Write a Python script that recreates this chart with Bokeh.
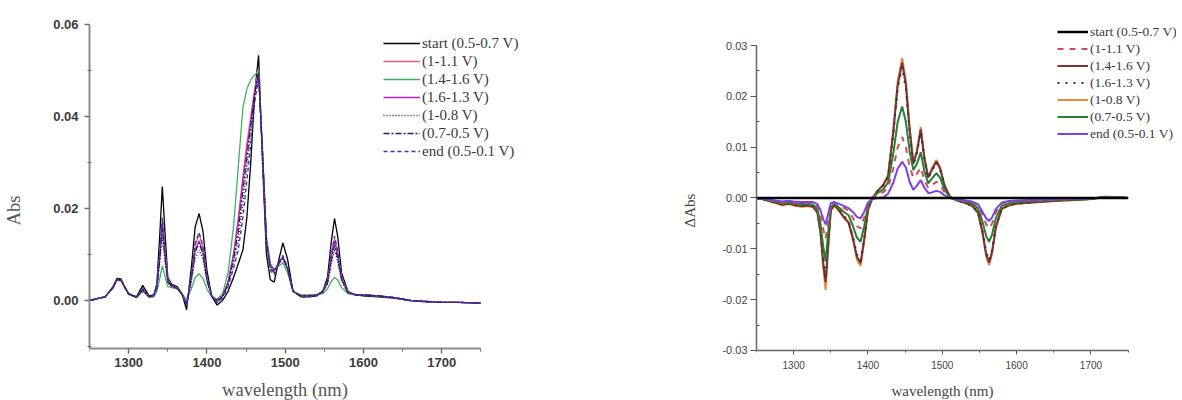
from bokeh.plotting import figure
from bokeh.models import FixedTicker, PrintfTickFormatter, Legend, LegendItem, Range1d
from bokeh.layouts import row
from bokeh.embed import file_html
from bokeh.resources import INLINE

# ---------------- data ----------------
wl = [1250, 1260, 1270, 1280, 1285, 1290, 1295, 1300, 1310, 1318, 1326, 1332, 1336, 1340, 1343, 1346, 1350, 1355,
      1362, 1368, 1374, 1380, 1385, 1390, 1395, 1400, 1406, 1413, 1420, 1427, 1434, 1440, 1446, 1451, 1456, 1461,
      1466, 1471, 1476, 1481, 1486, 1492, 1497, 1503, 1510, 1520, 1530, 1540, 1548, 1554, 1559, 1563, 1567, 1572,
      1580, 1590, 1600, 1620, 1640, 1660, 1680, 1700, 1720, 1740, 1750]

# left panel: absorbance
abs_start = [0.0000, 0.0004, 0.0008, 0.0030, 0.0048, 0.0047, 0.0030, 0.0015, 0.0008, 0.0033, 0.0010, 0.0012, 0.0035, 0.0150, 0.0248, 0.0160, 0.0050, 0.0035,
             0.0030, 0.0015, -0.0020, 0.0070, 0.0160, 0.0189, 0.0150, 0.0065, 0.0010, -0.0010, 0.0000, 0.0020, 0.0050, 0.0080, 0.0110, 0.0180, 0.0300, 0.0450,
             0.0533, 0.0300, 0.0100, 0.0045, 0.0040, 0.0090, 0.0125, 0.0090, 0.0020, 0.0008, 0.0008, 0.0010, 0.0020, 0.0050, 0.0130, 0.0178, 0.0140, 0.0060,
             0.0020, 0.0012, 0.0010, 0.0008, 0.0005, 0.0000, -0.0003, -0.0004, -0.0004, -0.0005, -0.0006]
abs_1_11 = [0.0000, 0.0004, 0.0008, 0.0028, 0.0045, 0.0044, 0.0030, 0.0014, 0.0007, 0.0024, 0.0008, 0.0010, 0.0030, 0.0105, 0.0175, 0.0115, 0.0045, 0.0032,
            0.0028, 0.0015, -0.0008, 0.0050, 0.0120, 0.0145, 0.0115, 0.0050, 0.0010, 0.0000, 0.0010, 0.0040, 0.0100, 0.0180, 0.0270, 0.0340, 0.0400, 0.0460,
            0.0500, 0.0320, 0.0130, 0.0075, 0.0065, 0.0080, 0.0095, 0.0070, 0.0020, 0.0010, 0.0010, 0.0012, 0.0020, 0.0040, 0.0100, 0.0135, 0.0105, 0.0050,
            0.0018, 0.0012, 0.0012, 0.0010, 0.0006, 0.0000, -0.0002, -0.0004, -0.0004, -0.0005, -0.0006]
abs_14_16 = [0.0000, 0.0004, 0.0008, 0.0027, 0.0044, 0.0043, 0.0028, 0.0013, 0.0006, 0.0020, 0.0007, 0.0008, 0.0020, 0.0050, 0.0075, 0.0055, 0.0030, 0.0028,
             0.0025, 0.0015, 0.0002, 0.0025, 0.0050, 0.0058, 0.0048, 0.0025, 0.0008, 0.0003, 0.0015, 0.0060, 0.0160, 0.0290, 0.0420, 0.0460, 0.0480, 0.0490,
             0.0500, 0.0330, 0.0140, 0.0080, 0.0068, 0.0075, 0.0082, 0.0060, 0.0020, 0.0012, 0.0012, 0.0012, 0.0015, 0.0025, 0.0042, 0.0050, 0.0045, 0.0028,
             0.0015, 0.0012, 0.0012, 0.0010, 0.0006, 0.0000, -0.0002, -0.0004, -0.0004, -0.0005, -0.0006]
abs_16_13 = [0.0000, 0.0004, 0.0008, 0.0028, 0.0045, 0.0044, 0.0029, 0.0014, 0.0007, 0.0023, 0.0008, 0.0010, 0.0030, 0.0100, 0.0172, 0.0110, 0.0042, 0.0031,
             0.0027, 0.0014, -0.0010, 0.0048, 0.0110, 0.0130, 0.0105, 0.0045, 0.0010, 0.0000, 0.0010, 0.0040, 0.0100, 0.0170, 0.0260, 0.0330, 0.0390, 0.0450,
             0.0495, 0.0320, 0.0130, 0.0075, 0.0065, 0.0082, 0.0095, 0.0070, 0.0020, 0.0010, 0.0010, 0.0012, 0.0020, 0.0040, 0.0095, 0.0130, 0.0100, 0.0048,
             0.0018, 0.0012, 0.0012, 0.0010, 0.0006, 0.0000, -0.0002, -0.0004, -0.0004, -0.0005, -0.0006]
abs_1_08 = [0.0000, 0.0004, 0.0008, 0.0028, 0.0045, 0.0044, 0.0029, 0.0014, 0.0007, 0.0022, 0.0008, 0.0009, 0.0026, 0.0085, 0.0140, 0.0090, 0.0038, 0.0030,
            0.0026, 0.0014, -0.0005, 0.0040, 0.0090, 0.0110, 0.0090, 0.0040, 0.0010, 0.0000, 0.0012, 0.0035, 0.0080, 0.0130, 0.0210, 0.0290, 0.0360, 0.0440,
            0.0490, 0.0320, 0.0130, 0.0075, 0.0065, 0.0080, 0.0090, 0.0068, 0.0020, 0.0010, 0.0010, 0.0012, 0.0018, 0.0035, 0.0080, 0.0110, 0.0085, 0.0042,
            0.0016, 0.0012, 0.0012, 0.0010, 0.0006, 0.0000, -0.0002, -0.0004, -0.0004, -0.0005, -0.0006]
abs_07_05 = [0.0000, 0.0004, 0.0008, 0.0028, 0.0046, 0.0045, 0.0029, 0.0014, 0.0007, 0.0025, 0.0009, 0.0010, 0.0028, 0.0095, 0.0160, 0.0100, 0.0040, 0.0031,
             0.0027, 0.0014, -0.0008, 0.0045, 0.0105, 0.0125, 0.0100, 0.0045, 0.0010, -0.0003, 0.0008, 0.0035, 0.0090, 0.0150, 0.0240, 0.0310, 0.0380, 0.0450,
             0.0495, 0.0320, 0.0125, 0.0070, 0.0060, 0.0082, 0.0092, 0.0070, 0.0020, 0.0010, 0.0010, 0.0012, 0.0018, 0.0038, 0.0088, 0.0120, 0.0092, 0.0045,
             0.0017, 0.0012, 0.0012, 0.0010, 0.0006, 0.0000, -0.0002, -0.0004, -0.0004, -0.0005, -0.0006]
abs_end = [0.0000, 0.0004, 0.0008, 0.0029, 0.0047, 0.0046, 0.0030, 0.0015, 0.0008, 0.0028, 0.0009, 0.0011, 0.0032, 0.0110, 0.0180, 0.0115, 0.0045, 0.0033,
           0.0028, 0.0015, -0.0012, 0.0055, 0.0125, 0.0148, 0.0118, 0.0052, 0.0010, -0.0005, 0.0005, 0.0030, 0.0070, 0.0110, 0.0180, 0.0260, 0.0340, 0.0430,
           0.0485, 0.0320, 0.0120, 0.0065, 0.0055, 0.0085, 0.0098, 0.0072, 0.0020, 0.0008, 0.0008, 0.0010, 0.0020, 0.0042, 0.0100, 0.0140, 0.0108, 0.0050,
           0.0018, 0.0012, 0.0010, 0.0008, 0.0005, 0.0000, -0.0003, -0.0004, -0.0004, -0.0005, -0.0006]

# right panel: difference absorbance
d_start = [0.0, 0.0, 0.0, 0.0, 0.0, 0.0, 0.0, 0.0, 0.0, 0.0, 0.0, 0.0, 0.0, 0.0, 0.0, 0.0, 0.0, 0.0,
           0.0, 0.0, 0.0, 0.0, 0.0, 0.0, 0.0, 0.0, 0.0, 0.0, 0.0, 0.0, 0.0, 0.0, 0.0, 0.0, 0.0, 0.0,
           0.0, 0.0, 0.0, 0.0, 0.0, 0.0, 0.0, 0.0, 0.0, 0.0, 0.0, 0.0, 0.0, 0.0, 0.0, 0.0, 0.0, 0.0,
           0.0, 0.0, 0.0, 0.0, 0.0, 0.0, 0.0, 0.0, 0.0, 0.0, 0.0]
d_1_11 = [0.0000, -0.0002, -0.0005, -0.0008, -0.0009, -0.0008, -0.0008, -0.0009, -0.0010, -0.0010, -0.0011, -0.0016, -0.0034, -0.0063, -0.0080, -0.0050, -0.0013, -0.0009,
          -0.0015, -0.0020, -0.0025, -0.0040, -0.0055, -0.0060, -0.0038, -0.0011, 0.0000, 0.0007, 0.0011, 0.0020, 0.0058, 0.0100, 0.0120, 0.0100, 0.0062, 0.0040,
          0.0048, 0.0060, 0.0035, 0.0020, 0.0025, 0.0032, 0.0027, 0.0011, 0.0001, -0.0003, -0.0005, -0.0008, -0.0014, -0.0032, -0.0052, -0.0060, -0.0050, -0.0028,
          -0.0010, -0.0007, -0.0006, -0.0005, -0.0004, -0.0003, -0.0002, -0.0001, 0.0001, 0.0001, 0.0000]
d_14_16 = [0.0000, -0.0003, -0.0007, -0.0011, -0.0013, -0.0012, -0.0011, -0.0014, -0.0016, -0.0015, -0.0017, -0.0028, -0.0065, -0.0130, -0.0165, -0.0100, -0.0023, -0.0014,
           -0.0026, -0.0038, -0.0048, -0.0080, -0.0115, -0.0128, -0.0080, -0.0023, 0.0000, 0.0014, 0.0024, 0.0042, 0.0128, 0.0222, 0.0266, 0.0222, 0.0135, 0.0067,
           0.0092, 0.0135, 0.0077, 0.0040, 0.0055, 0.0072, 0.0058, 0.0024, 0.0003, -0.0005, -0.0009, -0.0015, -0.0028, -0.0066, -0.0110, -0.0127, -0.0105, -0.0057,
           -0.0021, -0.0014, -0.0011, -0.0009, -0.0007, -0.0005, -0.0004, -0.0002, 0.0002, 0.0001, 0.0000]
d_16_13 = [0.0000, -0.0003, -0.0007, -0.0011, -0.0013, -0.0012, -0.0011, -0.0013, -0.0015, -0.0015, -0.0016, -0.0027, -0.0062, -0.0125, -0.0160, -0.0097, -0.0022, -0.0014,
           -0.0025, -0.0036, -0.0046, -0.0078, -0.0111, -0.0124, -0.0078, -0.0022, 0.0000, 0.0013, 0.0023, 0.0040, 0.0124, 0.0215, 0.0258, 0.0215, 0.0130, 0.0065,
           0.0089, 0.0130, 0.0074, 0.0039, 0.0053, 0.0070, 0.0056, 0.0023, 0.0003, -0.0005, -0.0009, -0.0015, -0.0027, -0.0064, -0.0106, -0.0123, -0.0102, -0.0055,
           -0.0020, -0.0014, -0.0011, -0.0008, -0.0006, -0.0005, -0.0003, -0.0002, 0.0002, 0.0001, 0.0000]
d_1_08 = [0.0000, -0.0003, -0.0008, -0.0012, -0.0015, -0.0013, -0.0012, -0.0015, -0.0017, -0.0016, -0.0018, -0.0030, -0.0070, -0.0140, -0.0181, -0.0110, -0.0025, -0.0015,
          -0.0028, -0.0040, -0.0050, -0.0085, -0.0120, -0.0134, -0.0085, -0.0025, 0.0000, 0.0015, 0.0025, 0.0045, 0.0134, 0.0230, 0.0275, 0.0230, 0.0140, 0.0070,
          0.0095, 0.0140, 0.0080, 0.0042, 0.0058, 0.0075, 0.0060, 0.0025, 0.0003, -0.0005, -0.0010, -0.0016, -0.0030, -0.0070, -0.0115, -0.0132, -0.0110, -0.0060,
          -0.0022, -0.0015, -0.0012, -0.0009, -0.0007, -0.0005, -0.0004, -0.0002, 0.0003, 0.0001, 0.0000]
d_07_05 = [0.0000, -0.0002, -0.0006, -0.0009, -0.0011, -0.0010, -0.0009, -0.0011, -0.0012, -0.0012, -0.0013, -0.0022, -0.0050, -0.0098, -0.0125, -0.0075, -0.0018, -0.0011,
           -0.0020, -0.0028, -0.0034, -0.0056, -0.0078, -0.0086, -0.0055, -0.0016, 0.0000, 0.0010, 0.0016, 0.0030, 0.0087, 0.0150, 0.0180, 0.0150, 0.0092, 0.0055,
           0.0068, 0.0090, 0.0052, 0.0029, 0.0038, 0.0049, 0.0040, 0.0016, 0.0002, -0.0004, -0.0007, -0.0011, -0.0020, -0.0046, -0.0075, -0.0086, -0.0072, -0.0040,
           -0.0015, -0.0010, -0.0008, -0.0006, -0.0005, -0.0003, -0.0003, -0.0001, 0.0002, 0.0001, 0.0000]
d_end = [0.0000, -0.0002, -0.0004, -0.0006, -0.0007, -0.0006, -0.0006, -0.0007, -0.0008, -0.0008, -0.0008, -0.0012, -0.0024, -0.0042, -0.0052, -0.0034, -0.0010, -0.0008,
         -0.0012, -0.0016, -0.0020, -0.0028, -0.0037, -0.0040, -0.0027, -0.0009, -0.0002, 0.0000, 0.0001, 0.0008, 0.0030, 0.0058, 0.0071, 0.0060, 0.0032, 0.0016,
         0.0025, 0.0035, 0.0020, 0.0010, 0.0011, 0.0014, 0.0012, 0.0005, 0.0000, -0.0003, -0.0005, -0.0007, -0.0012, -0.0027, -0.0040, -0.0045, -0.0038, -0.0022,
         -0.0009, -0.0006, -0.0005, -0.0004, -0.0003, -0.0002, -0.0002, -0.0001, 0.0001, 0.0000, 0.0000]

labels = ["start (0.5-0.7 V)", "(1-1.1 V)", "(1.4-1.6 V)", "(1.6-1.3 V)", "(1-0.8 V)", "(0.7-0.5 V)", "end (0.5-0.1 V)"]
x_major = [1300, 1400, 1500, 1600, 1700]
x_minor = [1250, 1350, 1450, 1550, 1650, 1750]
y1_major = [0.0, 0.02, 0.04, 0.06]
y1_minor = [-0.01, 0.01, 0.03, 0.05]
y2_major = [-0.03, -0.02, -0.01, 0.0, 0.01, 0.02, 0.03]
y2_minor = [-0.025, -0.015, -0.005, 0.005, 0.015, 0.025]

SERIF = "Liberation Serif"
SANS = "Liberation Sans"

# ---------------- left panel ----------------
# frame: x 89..531 px, y 20..400 px; extra room holds the legend and axis texts
p1 = figure(width=568, height=400, output_backend="svg", toolbar_location=None,
            x_range=Range1d(1250, 1814.6), y_range=Range1d(-0.02174, 0.06087),
            min_border_left=89, min_border_right=37, min_border_top=20, min_border_bottom=0)
p1.outline_line_color = None
p1.xgrid.visible = False
p1.ygrid.visible = False

left_styles = [
    ("#000000", None),
    ("#e0607a", None),
    ("#3fb060", None),
    ("#c020c0", None),
    ("#222222", "1 2"),
    ("#202060", "6 2 2 2"),
    ("#3535a5", "4 3"),
]
left_data = [abs_start, abs_1_11, abs_14_16, abs_16_13, abs_1_08, abs_07_05, abs_end]
r1 = []
for (c, d), ys in zip(left_styles, left_data):
    kw = dict(line_color=c, line_width=1.3)
    if d:
        kw["line_dash"] = d
    r1.append(p1.line(wl, ys, **kw))

for ax in (p1.xaxis[0], p1.yaxis[0]):
    ax.axis_line_color = "#8c8c8c"
    ax.axis_line_width = 2
    ax.major_tick_line_color = "#6c6c6c"
    ax.minor_tick_line_color = "#6c6c6c"
    ax.major_tick_line_width = 1.5
    ax.major_label_text_font = SANS
    ax.major_label_text_font_size = "13px"
    ax.major_label_text_font_style = "bold"
    ax.major_label_text_color = "#3a3a3a"
    ax.axis_label_text_font = SERIF
    ax.axis_label_text_font_size = "18.5px"
    ax.axis_label_text_font_style = "normal"
    ax.axis_label_text_color = "#555555"
    ax.major_tick_in = 0
    ax.major_tick_out = 5
p1.xaxis.ticker = FixedTicker(ticks=x_major, minor_ticks=x_minor)
p1.yaxis.ticker = FixedTicker(ticks=y1_major, minor_ticks=y1_minor)
p1.yaxis.formatter = PrintfTickFormatter(format="%.2f")
p1.xaxis.bounds = (1250, 1750)
p1.yaxis.bounds = (-0.01043, 0.06)
p1.xaxis.fixed_location = -0.01043
p1.xaxis.minor_tick_in = 0
p1.xaxis.minor_tick_out = 3
p1.yaxis.minor_tick_in = 2
p1.yaxis.minor_tick_out = 2
p1.xaxis.major_label_standoff = 5
p1.yaxis.major_label_standoff = 6
p1.xaxis.axis_label = "wavelength (nm)"
p1.yaxis.axis_label = "Abs"
p1.xaxis.axis_label_standoff = 9
p1.yaxis.axis_label_standoff = 26

leg1 = Legend(items=[LegendItem(label=l, renderers=[r]) for l, r in zip(labels, r1)],
              location=(294, 240), padding=0, margin=0, spacing=0,
              label_height=18, glyph_height=18, glyph_width=37, label_standoff=2,
              border_line_color=None, background_fill_alpha=0,
              label_text_font=SERIF, label_text_font_size="15px", label_text_color="#3a3a3a")
p1.add_layout(leg1, "center")

# ---------------- right panel ----------------
# frame: x 756..1176 px, y 20..400 px
p2 = figure(width=614, height=400, output_backend="svg", toolbar_location=None,
            x_range=Range1d(1250, 1815.1), y_range=Range1d(-0.03984, 0.03492),
            min_border_left=188, min_border_right=6, min_border_top=20, min_border_bottom=0)
p2.outline_line_color = None
p2.xgrid.visible = False
p2.ygrid.visible = False

right_styles = [
    ("#000000", None, 2.5),
    ("#d24a5a", "6 6", 2),
    ("#7a3434", None, 2),
    ("#303050", "2 6", 2),
    ("#e8893c", None, 2),
    ("#228030", None, 2),
    ("#8040e0", None, 2),
]
right_data = [d_start, d_1_11, d_14_16, d_16_13, d_1_08, d_07_05, d_end]
r2 = [None] * 7
draw_order = [4, 2, 3, 5, 1, 6, 0]
for i in draw_order:
    c, d, w = right_styles[i]
    kw = dict(line_color=c, line_width=w)
    if d:
        kw["line_dash"] = d
    r2[i] = p2.line(wl, right_data[i], **kw)

for ax in (p2.xaxis[0], p2.yaxis[0]):
    ax.axis_line_color = "#666666"
    ax.axis_line_width = 1.5
    ax.major_tick_line_color = "#555555"
    ax.minor_tick_line_color = "#555555"
    ax.major_label_text_font = SANS
    ax.major_label_text_font_style = "normal"
    ax.major_label_text_color = "#444444"
    ax.axis_label_text_font = SERIF
    ax.axis_label_text_font_size = "15px"
    ax.axis_label_text_font_style = "normal"
    ax.axis_label_text_color = "#444444"
    ax.major_tick_in = 0
p2.xaxis.major_label_text_font_size = "10px"
p2.yaxis.major_label_text_font_size = "11px"
p2.xaxis.ticker = FixedTicker(ticks=x_major, minor_ticks=x_minor)
p2.yaxis.ticker = FixedTicker(ticks=y2_major, minor_ticks=y2_minor)
p2.yaxis.formatter = PrintfTickFormatter(format="%.2f")
p2.xaxis.bounds = (1250, 1750)
p2.yaxis.bounds = (-0.03, 0.03)
p2.xaxis.fixed_location = -0.03
p2.xaxis.major_tick_out = 4
p2.yaxis.major_tick_out = 6
p2.xaxis.minor_tick_in = 0
p2.xaxis.minor_tick_out = 2
p2.yaxis.minor_tick_in = 3
p2.yaxis.minor_tick_out = 0
p2.xaxis.major_label_standoff = 7
p2.yaxis.major_label_standoff = 3
p2.xaxis.axis_label = "wavelength (nm)"
p2.yaxis.axis_label = "\u0394Abs"
p2.xaxis.axis_label_standoff = 10
p2.yaxis.axis_label_standoff = 21

leg2 = Legend(items=[LegendItem(label=l, renderers=[r]) for l, r in zip(labels, r2)],
              location=(301, 258), padding=0, margin=0, spacing=0,
              label_height=17, glyph_height=17, glyph_width=31, label_standoff=2,
              border_line_color=None, background_fill_alpha=0,
              label_text_font=SERIF, label_text_font_size="13.5px", label_text_color="#3a3a3a")
p2.add_layout(leg2, "center")

layout = row(p1, p2)
open("out.html", "w").write(file_html(layout, INLINE))
